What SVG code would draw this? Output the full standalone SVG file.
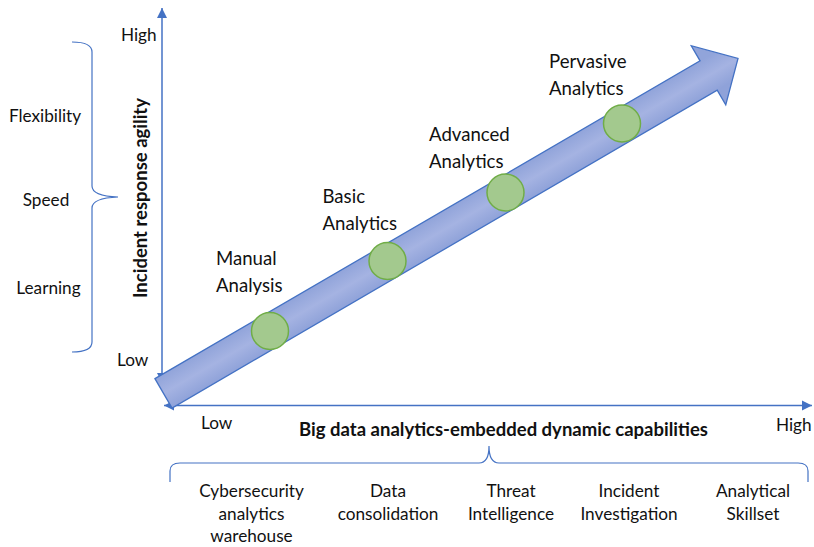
<svg xmlns="http://www.w3.org/2000/svg" width="814" height="547" viewBox="0 0 814 547">
<style>
text{font-family:Lato,"Liberation Sans",sans-serif;fill:#111;}
.t{font-size:17.2px;}
.s{font-size:18.6px;}
.b{font-size:18.5px;font-weight:bold;}
.c{text-anchor:middle;}
.axis{stroke:#4472C4;stroke-width:1.5;fill:none;}
.brace{stroke:#4472C4;stroke-width:1.2;fill:none;}
.dot{fill:#A3C98E;stroke:#70AD47;stroke-width:1.5;}
</style>
<defs>
<marker id="ah" viewBox="0 0 10 10" refX="10" refY="5" markerWidth="10" markerHeight="11" markerUnits="userSpaceOnUse" orient="auto-start-reverse">
<path d="M0,0 L10,5 L0,10 z" fill="#4472C4"/>
</marker>
<linearGradient id="g" gradientUnits="userSpaceOnUse" x1="0" y1="-17" x2="0" y2="17">
<stop offset="0" stop-color="#91A4DA"/>
<stop offset="0.5" stop-color="#A5B3E2"/>
<stop offset="1" stop-color="#8FA2D9"/>
</linearGradient>
</defs>

<g id="connectors">
<line class="axis" x1="162" y1="383" x2="162" y2="8" marker-start="url(#ah)" marker-end="url(#ah)"/>
<line class="axis" x1="164" y1="405.5" x2="812" y2="405.5" marker-start="url(#ah)" marker-end="url(#ah)"/>
</g>

<g id="big-arrow" transform="translate(163.5,393.3) rotate(-30.24)">
<polygon points="0,-17 631,-17 631,-34.5 665,0 631,34 631,17 0,17" fill="url(#g)" stroke="#4472C4" stroke-width="1.3" stroke-linejoin="miter"/>
</g>

<g id="stage-manual">
<circle class="dot" cx="270" cy="331" r="18.5"/>
<text class="s" x="216" y="265">Manual</text>
<text class="s" x="216" y="291.5">Analysis</text>
</g>
<g id="stage-basic">
<circle class="dot" cx="387.5" cy="261" r="18.5"/>
<text class="s" x="322.5" y="203">Basic</text>
<text class="s" x="322.5" y="229.5">Analytics</text>
</g>
<g id="stage-advanced">
<circle class="dot" cx="505.5" cy="192.5" r="18.5"/>
<text class="s" x="429" y="141">Advanced</text>
<text class="s" x="429" y="167.5">Analytics</text>
</g>
<g id="stage-pervasive">
<circle class="dot" cx="622" cy="123.5" r="18.5"/>
<text class="s" x="549" y="68">Pervasive</text>
<text class="s" x="549" y="94.5">Analytics</text>
</g>

<g id="y-axis-labels">
<text class="t" x="121" y="41">High</text>
<text class="t" x="117" y="366">Low</text>
<text class="b c" transform="translate(147,198) rotate(-90)" x="0" y="0">Incident response agility</text>
</g>

<g id="x-axis-labels">
<text class="t" x="201" y="429">Low</text>
<text class="t" x="776" y="431">High</text>
<text class="b c" x="503.5" y="436">Big data analytics-embedded dynamic capabilities</text>
</g>

<g id="agility-brace">
<path class="brace" d="M72,42 Q92,42 92,52 L92,186 Q92,196 118,197 Q92,198 92,208 L92,342 Q92,352 72,352"/>
<text class="t c" x="45" y="122">Flexibility</text>
<text class="t c" x="46" y="206">Speed</text>
<text class="t c" x="48.5" y="294">Learning</text>
</g>

<g id="capabilities-brace">
<path class="brace" d="M170,482 L170,471 Q170,463 180,463 L479,463 Q489,463 489,446 Q489,463 499,463 L798,463 Q808,463 808,471 L808,482"/>
<text class="t c" x="251.5" y="497">Cybersecurity</text>
<text class="t c" x="251.5" y="520">analytics</text>
<text class="t c" x="251.5" y="542">warehouse</text>
<text class="t c" x="388" y="497">Data</text>
<text class="t c" x="388" y="520">consolidation</text>
<text class="t c" x="511" y="497">Threat</text>
<text class="t c" x="511" y="520">Intelligence</text>
<text class="t c" x="629" y="497">Incident</text>
<text class="t c" x="629" y="520">Investigation</text>
<text class="t c" x="753" y="497">Analytical</text>
<text class="t c" x="753" y="520">Skillset</text>
</g>
</svg>
